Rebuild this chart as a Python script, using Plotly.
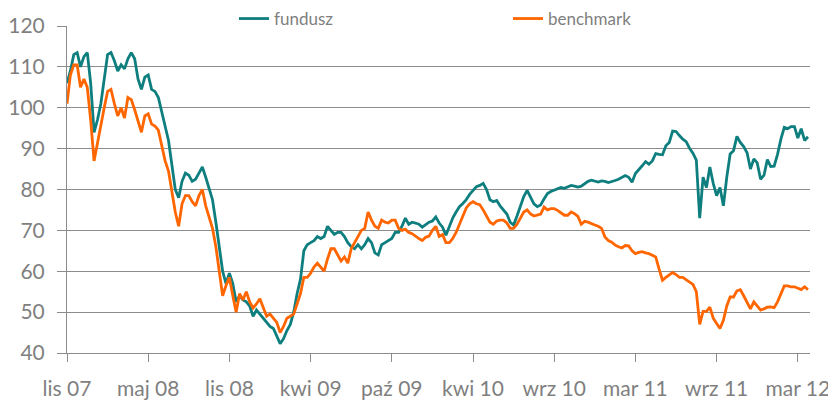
import plotly.graph_objects as go

tick_labels = ["lis 07", "maj 08", "lis 08", "kwi 09", "paź 09", "kwi 10",
               "wrz 10", "mar 11", "wrz 11", "mar 12"]
points_per_tick = 24

fundusz = [
    106, 109, 113, 113.5, 110, 112.5, 113.5, 106, 94, 97,
    101, 107, 113, 113.5, 111.5, 109, 110.5, 109.5, 112, 113.5,
    112, 107, 104.5, 107.5, 108, 104.5, 104, 102.5, 99, 95,
    92, 86, 80, 78, 82, 84, 83.5, 82, 82.5, 84,
    85.5, 83, 80, 77.5, 72, 66, 60, 57, 59.5, 57,
    52.5, 54, 53, 52.5, 51.5, 49, 50.5, 49.5, 48.5, 47.5,
    46.5, 46, 44, 42.3, 43.5, 45.5, 47, 50, 54.5, 58,
    65, 66.5, 67, 67.5, 68.5, 68, 68.5, 71, 70, 69,
    69.5, 69.5, 68.5, 67, 66, 65.5, 66.5, 65.5, 66.5, 68,
    67, 64.5, 64, 66.5, 67, 67.5, 68, 69.5, 69.5, 71,
    73, 71.5, 72, 71.8, 71.5, 70.8, 71.5, 72, 72.3, 73.3,
    71.8, 70.8, 68.8, 71, 73, 74.5, 75.8, 76.6, 77.5, 78.8,
    79.8, 80.7, 81, 81.5, 80, 77.5, 77, 77.3, 76, 75,
    74, 72, 71.3, 73.5, 76, 78.3, 79.8, 78, 76.5, 75.8,
    76.2, 77.7, 79, 79.5, 79.8, 80.2, 80.5, 80.3, 80.6, 81,
    80.8, 80.6, 80.8, 81.5, 82, 82.3, 82, 81.8, 82.1, 82,
    81.7, 81.9, 82.2, 82.5, 82.9, 83.4, 83, 81.8, 83.9, 85,
    85.8, 86.8, 86.2, 87, 88.8, 88.6, 88.5, 90.7, 91.5, 94.3,
    94.2, 93.2, 92.3, 91.7, 90.1, 88.9, 87.2, 73, 83, 80.5,
    85.5, 81.5, 78.5, 80.5, 76, 83, 88.7, 89.5, 93, 91.5,
    90.5, 89, 85, 87.5, 86.5, 82.5, 83.5, 87.3, 85.6, 85.7,
    88.6, 92.3, 95.2, 94.9, 95.4, 95.4, 92.6, 94.9, 92, 92.9,
]

benchmark = [
    101, 108, 110.5, 110.5, 105, 107, 105, 97, 87, 91.5,
    96.5, 100, 104, 104.5, 101, 98, 100, 97.5, 102.5, 102,
    99.5, 97, 94, 98, 98.5, 96, 95.5, 94.5, 91, 87,
    84.5, 79, 74.5, 71, 76.5, 78.5, 78.5, 77, 76, 78.5,
    80, 76, 73, 70.5, 66, 60, 54, 56.5, 58.5, 54,
    50, 54.5, 53, 55, 52.5, 51, 52, 53.3, 51, 49,
    49.5, 48.5, 47.5, 45, 46.5, 48.5, 49, 49.5, 52, 54.5,
    58.5, 58.5, 59.5, 61, 62, 61, 60, 63, 65.5, 65.5,
    64, 62.5, 63.5, 62, 65.5, 67, 68.5, 70, 70.5, 74.5,
    72.5, 71, 70.5, 72.5, 72, 71.8, 72.5, 72.5, 70.5, 70,
    70.3, 69.5, 69.2, 68.5, 68, 67.5, 68.3, 68.6, 70, 71,
    68.5, 69, 67, 67, 68, 69.5, 71.5, 73.5, 75.5, 76.5,
    77, 76.5, 76.3, 75, 73.3, 72, 71.5, 72.3, 72.5, 72.5,
    71.8, 70.5, 70.5, 71.5, 73, 74.5, 75, 74, 73.5, 73.7,
    74, 75.7, 75, 75.3, 75.3, 74.9, 74.2, 73.7, 73.7, 74.5,
    74.1, 73.4, 71.5, 72.2, 72, 71.6, 71.3, 71, 70.5, 68.4,
    67.5, 67.1, 66.4, 66, 65.7, 66.3, 66.2, 65, 64.3, 64.6,
    64.8, 64.5, 64.3, 63.9, 63.5, 60.5, 57.8, 58.5, 59, 59.7,
    59.2, 58.5, 58.5, 57.9, 57.3, 56.8, 55, 47, 50.2, 50.2,
    51.2, 48.5, 47.2, 46, 48, 51.5, 53.7, 53.7, 55.2, 55.5,
    54, 52.5, 50.8, 52.5, 51.5, 50.5, 50.8, 51.2, 51.3, 51.1,
    52.5, 54.5, 56.4, 56.4, 56.2, 56.2, 55.8, 55.5, 56.2, 55.5,
]

TEAL = "#0e7f7e"
ORANGE = "#ff6600"
GRID = "#8c8c8c"
TEXT = "#7f7f7f"
FONT = "Lato, 'Open Sans', sans-serif"

# the page body has an 8px margin, so the figure is 8px smaller each way
W, H = 828, 393

idx = list(range(len(fundusz)))
tickvals = [i * points_per_tick for i in range(len(tick_labels))]

fig = go.Figure()
fig.add_trace(go.Scatter(x=idx, y=fundusz, mode="lines", name="fundusz",
                         line=dict(color=TEAL, width=2.8)))
fig.add_trace(go.Scatter(x=idx, y=benchmark, mode="lines", name="benchmark",
                         line=dict(color=ORANGE, width=2.8)))

# white strip hiding the top gridline behind the legend (as in the original)
fig.add_shape(type="rect", xref="paper", yref="y", layer="between",
              x0=(138 - 67) / 743, x1=(711 - 67) / 743, y0=119.5, y1=120.6,
              fillcolor="white", line=dict(width=0))

fig.update_layout(
    width=W, height=H,
    margin=dict(l=59, r=26, t=18, b=48, autoexpand=False),
    paper_bgcolor="white", plot_bgcolor="white",
    font=dict(family=FONT, color=TEXT),
    showlegend=True,
    legend=dict(orientation="h", xref="container", yref="container",
                x=226 / W, xanchor="left",
                y=1 - 11 / H, yanchor="middle", font=dict(size=17, color=TEXT),
                entrywidth=229, entrywidthmode="pixels",
                bgcolor="rgba(0,0,0,0)", itemwidth=30),
    xaxis=dict(range=[0, 219.6], tickmode="array", tickvals=tickvals,
               ticktext=tick_labels, showgrid=False, showline=True,
               linecolor=GRID, linewidth=1, ticks="outside", ticklen=8,
               tickcolor=GRID, tickfont=dict(size=21, color=TEXT),
               ticklabelstandoff=9, zeroline=False, automargin=False),
    yaxis=dict(range=[40, 120], tickvals=[40, 50, 60, 70, 80, 90, 100, 110, 120],
               showgrid=True, gridcolor=GRID, gridwidth=1, showline=True,
               linecolor=GRID, linewidth=1, ticks="outside", ticklen=9,
               tickcolor=GRID, tickfont=dict(size=21, color=TEXT),
               ticklabelstandoff=8, zeroline=False, automargin=False),
)

fig.write_html("out.html")
